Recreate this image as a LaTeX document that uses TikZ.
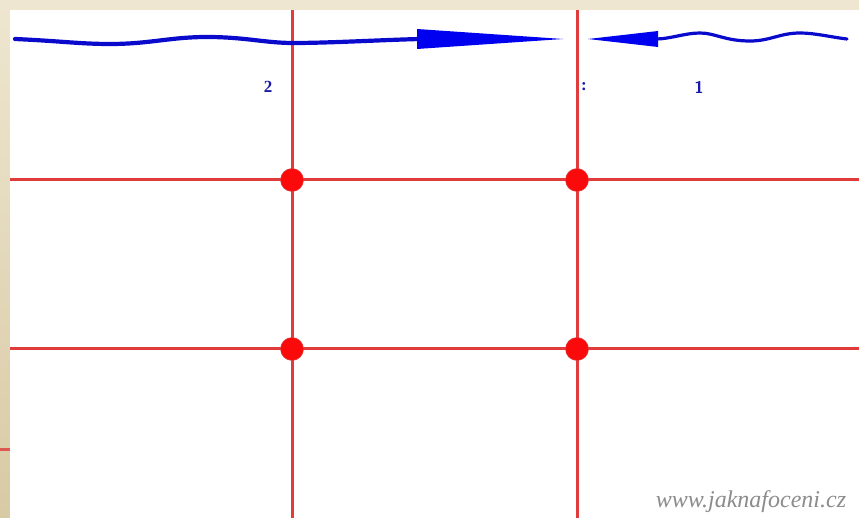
\documentclass[tikz,border=0pt]{standalone}
\usepackage{fontspec}
\setmainfont{Liberation Serif}
\usetikzlibrary{calc}
\definecolor{beigeA}{HTML}{EEE6D0}
\definecolor{beigeB}{HTML}{D8CAA5}
\definecolor{gridred}{HTML}{E03C3C}
\definecolor{dotred}{HTML}{FA0A0A}
\definecolor{wave}{HTML}{0A0ACC}
\definecolor{headblue}{HTML}{0000F0}
\definecolor{lblblue}{HTML}{1A1AAA}
\tikzset{
  gridline/.style={draw=gridred, line width=3pt},
  dotmark/.style={circle, fill=dotred, draw=gridred, line width=0.5pt, minimum size=23pt, inner sep=0pt},
  waveline/.style={draw=wave, line width=4.2pt, line cap=round},
  arrowhead/.style={fill=headblue, draw=none},
  lbl/.style={text=lblblue, font=\bfseries\fontsize{17}{18}\selectfont, inner sep=0pt},
}
\begin{document}
\begin{tikzpicture}[x=1pt,y=-1pt]
\useasboundingbox (0,0) rectangle (859,518);
% slide background
\shade[top color=beigeA, bottom color=beigeB] (0,0) rectangle (859,518);
\fill[white] (10,10) rectangle (859,518);
\draw[draw=gridred!80!beigeB, line width=3pt] (0,449) -- (10,449);
% grid
\coordinate (v1t) at (292,10); \coordinate (v1b) at (292,518);
\coordinate (v2t) at (577,10); \coordinate (v2b) at (577,518);
\coordinate (h1l) at (10,180); \coordinate (h1r) at (859,180);
\coordinate (h2l) at (10,349); \coordinate (h2r) at (859,349);
\draw[gridline] (v1t) -- (v1b);
\draw[gridline] (v2t) -- (v2b);
\draw[gridline] (h1l) -- (h1r);
\draw[gridline] (h2l) -- (h2r);
\node[dotmark] (d11) at (292,180) {};
\node[dotmark] (d21) at (577,180) {};
\node[dotmark] (d12) at (292,349) {};
\node[dotmark] (d22) at (577,349) {};
% left wave with arrow head
\coordinate (w1s) at (15,39);
\coordinate (h1base) at (420,39);
\coordinate (h1tip) at (563,39);
\draw[waveline] (w1s) .. controls (60,41) and (80,44) .. (110,44)
  .. controls (150,44) and (170,37) .. (207,37)
  .. controls (245,37) and (265,43) .. (293,43)
  .. controls (330,43) and (380,40) .. (h1base);
\fill[arrowhead] (417,29) -- (h1tip) -- (417,49) -- cycle;
% right wave with arrow head
\coordinate (w2s) at (847,39);
\coordinate (h2base) at (656,39);
\coordinate (h2tip) at (588,39);
\draw[waveline, line width=3.2pt] (w2s) .. controls (830,37) and (815,33) .. (800,33)
  .. controls (780,33) and (770,41) .. (750,41)
  .. controls (725,41) and (715,33) .. (700,33)
  .. controls (685,33) and (670,39) .. (h2base);
\fill[arrowhead] (658,31) -- (h2tip) -- (658,47) -- cycle;
% labels
\node[lbl] (l2) at (268,87) {2};
\node[lbl] (lc) at (584,87) {:};
\node[lbl, font=\sffamily\bfseries\fontsize{17}{18}\selectfont] (l1) at (699,87) {1};
\node[text=black!45, font=\itshape\fontsize{24}{26}\selectfont, inner sep=0pt] (wm) at (751,502) {www.jaknafoceni.cz};
\end{tikzpicture}
\end{document}
